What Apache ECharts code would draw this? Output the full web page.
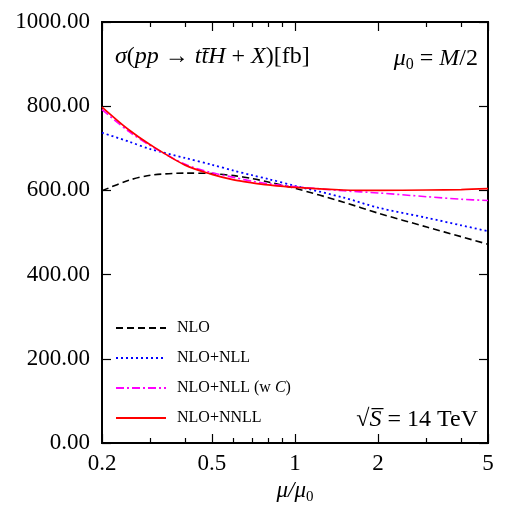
<!DOCTYPE html>
<html>
<head>
<meta charset="utf-8">
<script src="https://cdn.jsdelivr.net/npm/echarts@6/dist/echarts.min.js"></script>
<style>
  html, body { margin: 0; padding: 0; background: #fff; }
  #chart { width: 519px; height: 505px; }
</style>
</head>
<body>
<div id="chart"></div>
<script>
// scale mu/mu0 and cross sections [fb]
const muValues = [0.2, 0.25, 0.3, 0.4, 0.5, 0.6, 0.7, 0.8, 1, 1.5, 2, 3, 4, 5];
const nlo      = [599, 624, 636, 641, 640, 635, 628, 620, 605, 572, 546, 513, 490, 472];
const nloNll   = [737, 716, 698, 677, 661, 647, 636, 627, 611, 583, 559, 535, 517, 503];
const nloNllC  = [792, 740, 706, 662, 642, 631, 622, 616, 609, 599, 594, 585, 579, 576];
const nloNnll  = [798, 744, 708, 660, 638, 625, 618, 613, 607, 601, 600, 601, 602, 604];

const xMajor = [0.2, 0.5, 1, 2, 5];
const xMinor = [0.3, 0.4, 0.6, 0.7, 0.8, 0.9, 3, 4];

const serif = 'Liberation Serif';

function pairs(ys) {
  return muValues.map((x, i) => [x, ys[i]]);
}

const chart = echarts.init(document.getElementById('chart'));

// shared bits for the x axes
function xAxisCfg(pos, ticks, len, labels) {
  return {
    type: 'log', logBase: 10, min: 0.2, max: 5, position: pos,
    axisLine: { show: true, onZero: false, lineStyle: { color: '#000', width: 2 } },
    axisTick: { show: true, inside: true, length: len, customValues: ticks, lineStyle: { color: '#000', width: 1.2 } },
    axisLabel: labels ? {
      show: true, customValues: xMajor, margin: 9,
      fontFamily: serif, fontSize: 23, color: '#000',
      formatter: v => String(+v.toFixed(2))
    } : { show: false },
    splitLine: { show: false }
  };
}

function rich(size, extra) {
  return Object.assign({ fontFamily: serif, fontSize: size, fontWeight: 'normal', color: '#000' }, extra || {});
}

const option = {
  animation: false,
  backgroundColor: '#fff',
  grid: { left: 102, right: 31, top: 22, bottom: 62, outerBoundsMode: 'none', containLabel: false },
  xAxis: [
    Object.assign(xAxisCfg('bottom', xMajor, 9, true), {
      name: '{i|μ/μ}{s|0}', nameLocation: 'middle', nameGap: 34,
      nameTextStyle: {
        rich: {
          i: rich(23, { fontStyle: 'italic' }),
          s: rich(15, { verticalAlign: 'bottom', padding: [12, 0, 0, 0] })
        }
      }
    }),
    xAxisCfg('bottom', xMinor, 5, false),
    xAxisCfg('top', xMajor, 9, false),
    xAxisCfg('top', xMinor, 5, false)
  ],
  yAxis: [
    {
      type: 'value', min: 0, max: 1000, interval: 200, position: 'left',
      axisLine: { show: true, lineStyle: { color: '#000', width: 2 } },
      axisTick: { show: true, inside: true, length: 9, lineStyle: { color: '#000', width: 1.2 } },
      axisLabel: { fontFamily: serif, fontSize: 23, color: '#000', margin: 12, formatter: v => v.toFixed(2) },
      splitLine: { show: false }
    },
    {
      type: 'value', min: 0, max: 1000, interval: 200, position: 'right',
      axisLine: { show: true, lineStyle: { color: '#000', width: 2 } },
      axisTick: { show: true, inside: true, length: 9, lineStyle: { color: '#000', width: 1.2 } },
      axisLabel: { show: false },
      splitLine: { show: false }
    }
  ],
  legend: {
    orient: 'vertical', left: 110, top: 315,
    itemWidth: 50, itemHeight: 14, itemGap: 14,
    itemStyle: { opacity: 0 },
    textStyle: {
      fontFamily: serif, fontSize: 16, color: '#000', padding: [0, 0, 0, 6],
      rich: {
        n: rich(16),
        i: rich(16, { fontStyle: 'italic' })
      }
    },
    formatter: name => name === 'NLO+NLL (w C)' ? '{n|NLO+NLL (w }{i|C}{n|)}' : name,
    data: ['NLO', 'NLO+NLL', 'NLO+NLL (w C)', 'NLO+NNLL']
  },
  title: [
    {
      left: 110, top: 40,
      text: '{i|σ}{n|(}{i|pp}{n| → }{i|tt̄H}{n| + }{i|X}{n|)[fb]}',
      textStyle: {
        rich: {
          i: rich(24, { fontStyle: 'italic' }),
          n: rich(24)
        }
      }
    },
    {
      right: 36, top: 40,
      text: '{i|μ}{s|0}{n| = }{i|M}{n|/2}',
      textStyle: {
        rich: {
          i: rich(24, { fontStyle: 'italic' }),
          s: rich(16, { verticalAlign: 'bottom', padding: [12, 0, 0, 0] }),
          n: rich(24)
        }
      }
    },
    {
      right: 36, top: 403,
      text: '{n|√}{i|S̅}{n| = 14 TeV}',
      textStyle: {
        rich: {
          i: rich(24, { fontStyle: 'italic' }),
          n: rich(24)
        }
      }
    }
  ],
  series: [
    {
      name: 'NLO', type: 'line', data: pairs(nlo), smooth: 0.3, symbol: 'none',
      lineStyle: { color: '#000', width: 1.6, type: [7, 4] }, itemStyle: { color: '#000' }
    },
    {
      name: 'NLO+NLL', type: 'line', data: pairs(nloNll), smooth: 0.3, symbol: 'none',
      lineStyle: { color: '#0000ff', width: 1.8, type: [2, 3] }, itemStyle: { color: '#0000ff' }
    },
    {
      name: 'NLO+NLL (w C)', type: 'line', data: pairs(nloNllC), smooth: 0.3, symbol: 'none',
      lineStyle: { color: '#ff00ff', width: 1.6, type: [8, 3, 2, 3] }, itemStyle: { color: '#ff00ff' }
    },
    {
      name: 'NLO+NNLL', type: 'line', data: pairs(nloNnll), smooth: 0.3, symbol: 'none',
      lineStyle: { color: '#ff0000', width: 1.7 }, itemStyle: { color: '#ff0000' }
    }
  ]
};

chart.setOption(option);
window.addEventListener('resize', () => chart.resize());
</script>
</body>
</html>
